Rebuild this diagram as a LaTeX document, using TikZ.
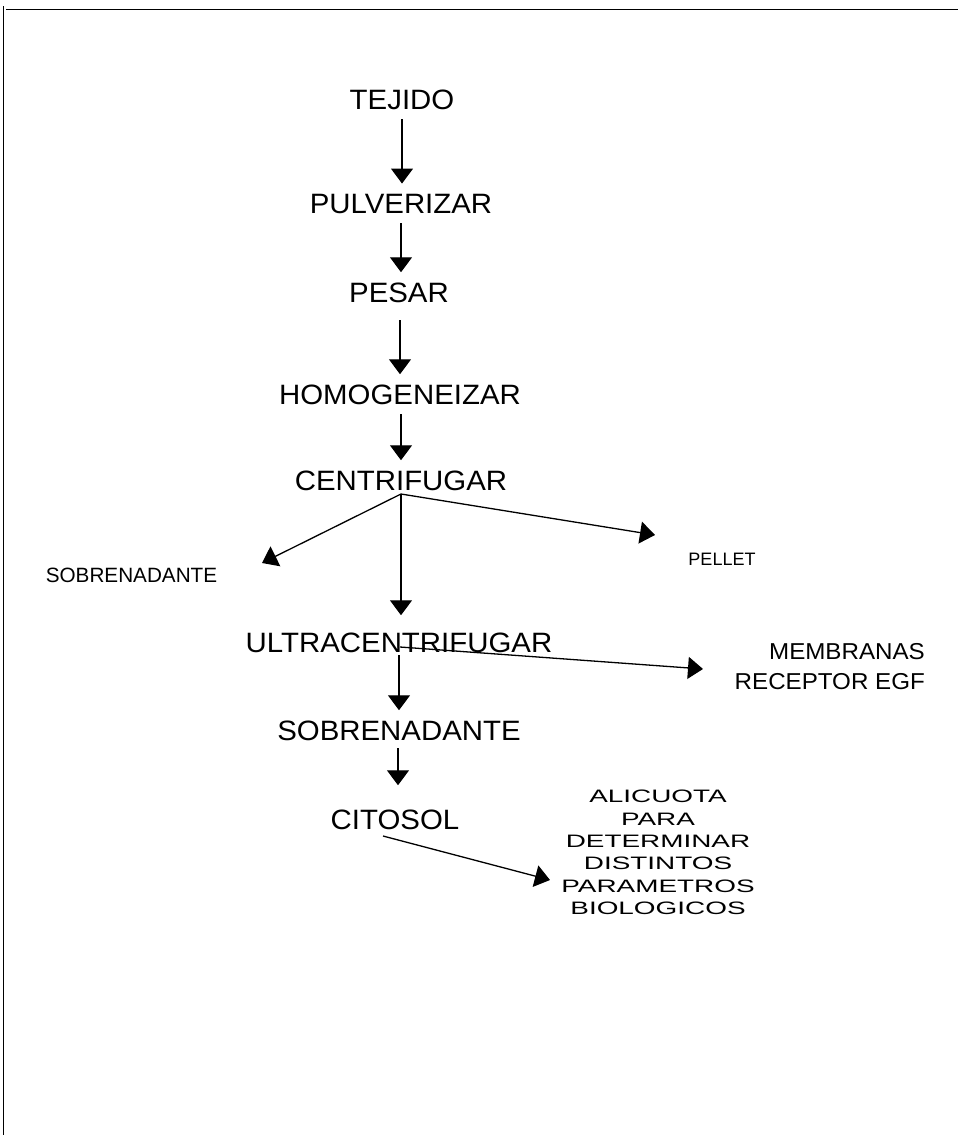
\documentclass[tikz,border=0pt]{standalone}
\usepackage{fontspec}
\setmainfont{Liberation Sans}
\newfontfamily\colfont[FakeStretch=1.05]{Liberation Sans}
\newfontfamily\widefont[FakeStretch=1.55]{Liberation Sans}
\usetikzlibrary{arrows.meta}
\begin{document}
\begin{tikzpicture}[x=1pt,y=-1pt,
  colnode/.style={font=\colfont\fontsize{28}{34}\selectfont, inner xsep=0pt, inner ysep=10pt, anchor=base},
  sidenode/.style={font=\fontsize{20.7}{25}\selectfont, inner sep=0pt, anchor=base},
  arr/.style={line width=1.3pt, -{Triangle[length=15pt,width=22pt]}},
  frameline/.style={line width=1.8pt}]
% page and frame
\useasboundingbox (0,0) rectangle (958,1135);
\draw[frameline] (3.5,1135) -- (3.5,6);
\draw[line width=1.5pt] (6,9.5) -- (958,9.5);

% main column of steps
\node[colnode] (tejido) at (402,109) {TEJIDO};
\node[colnode] (pulv)   at (401,213) {PULVERIZAR};
\node[colnode] (pesar)  at (399,302) {PESAR};
\node[colnode] (homog)  at (400,404) {HOMOGENEIZAR};
\node[colnode] (centr)  at (401,490) {CENTRIFUGAR};
\node[colnode] (ultra)  at (399,652) {ULTRACENTRIFUGAR};
\node[colnode] (sobr)   at (399,740) {SOBRENADANTE};
\node[colnode] (citosol) at (395,829) {CITOSOL};

% side products
\node[sidenode] (sobleft) at (131.5,582) {SOBRENADANTE};
\node[sidenode, font=\fontsize{18}{22}\selectfont] (pellet) at (722,565) {PELLET};
\node[font=\colfont\fontsize{23}{30}\selectfont, align=right, inner sep=0pt, anchor=north east]
  (membr) at (925,643) {MEMBRANAS\\RECEPTOR EGF};
\node[font=\widefont\fontsize{18}{22.4}\selectfont, align=center, inner sep=0pt, anchor=north]
  (alic) at (658,790) {ALICUOTA\\PARA\\DETERMINAR\\DISTINTOS\\PARAMETROS\\BIOLOGICOS};

% branch points and arrow tips
\coordinate (cj) at (401,494);
\coordinate (uj) at (400,647);
\coordinate (cs) at (383,836);
\coordinate (tipsob) at (262,563);
\coordinate (tippel) at (655,535);
\coordinate (tipmem) at (703,669);
\coordinate (tipalic) at (550,880);

% vertical flow
\draw[arr] (tejido.south) -- (tejido.south |- pulv.north);
\draw[arr] (pulv.south) -- (pulv.south |- pesar.north);
\draw[arr, shorten <=8pt] (homog.north |- pesar.south) -- (homog.north);
\draw[arr] (centr.north |- homog.south) -- (centr.north);
\draw[arr, shorten >=7pt] (cj) -- (cj |- ultra.north);
\draw[arr, shorten <=-7pt] (ultra.south) -- (ultra.south |- sobr.north);
\draw[arr, shorten <=-2pt, shorten >=14pt] (citosol.north -| sobr.south) ++(-1,0) coordinate (sc) (sobr.south -| sc) -- (sc);

% branches
\draw[arr] (cj) -- (tipsob);
\draw[arr] (cj) -- (tippel);
\draw[arr] (uj) -- (tipmem);
\draw[arr] (cs) -- (tipalic);
\end{tikzpicture}
\end{document}
